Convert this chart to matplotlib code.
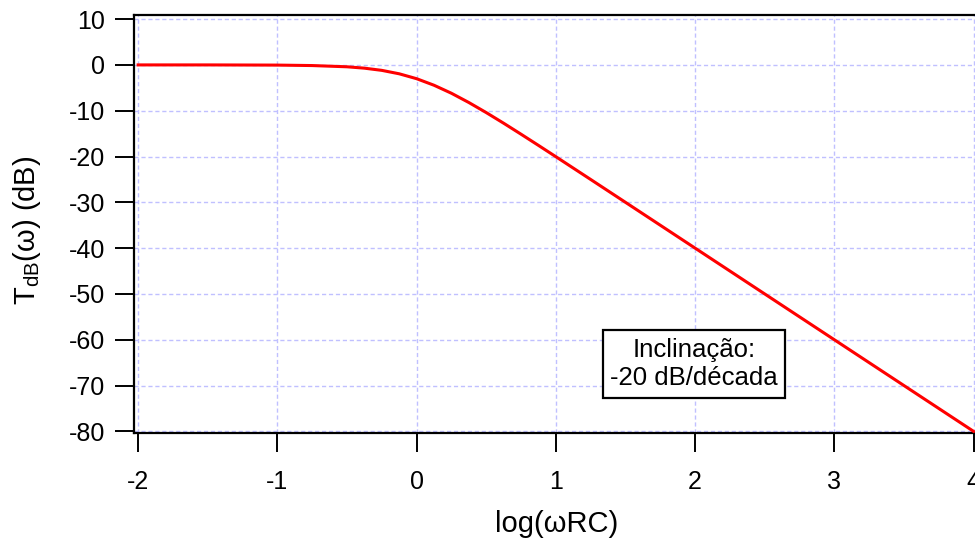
import matplotlib
matplotlib.use("Agg")
import matplotlib.pyplot as plt

# values
log_wrc = [-2.0, -1.5, -1.0, -0.75, -0.5, -0.375, -0.25, -0.125, 0.0,
           0.125, 0.25, 0.375, 0.5, 0.625, 0.75, 0.875, 1.0, 1.25, 1.5,
           2.0, 2.5, 3.0, 3.5, 4.0]
t_db = [0.0, 0.0, -0.04, -0.14, -0.41, -0.71, -1.19, -1.94, -3.01,
        -4.44, -6.19, -8.21, -10.41, -12.73, -15.13, -17.57, -20.04, -25.01, -30.0,
        -40.0, -50.0, -60.0, -70.0, -80.0]

x_ticks = [-2, -1, 0, 1, 2, 3, 4]
y_ticks = [10, 0, -10, -20, -30, -40, -50, -60, -70, -80]

plt.rcParams['font.family'] = ['Liberation Sans', 'DejaVu Sans']
plt.rcParams['mathtext.fontset'] = 'custom'
plt.rcParams['mathtext.rm'] = 'Liberation Sans'
plt.rcParams['axes.unicode_minus'] = False

fig = plt.figure(figsize=(9.75, 5.39), dpi=100)
ax = fig.add_axes([0.1374, 0.1967, 0.8626, 0.7755])

ax.plot(log_wrc, t_db, color='#ff0000', lw=2.2, zorder=3)

ax.set_xlim(-2.03, 4.01)
ax.set_ylim(-80.35, 10.9)
ax.set_xticks(x_ticks)
ax.set_yticks(y_ticks)
ax.grid(True, color='#c0c0ff', linestyle=(0, (3, 2)), linewidth=1.0)

ax.tick_params(direction='out', length=13.5, width=1.4, labelsize=18)
ax.tick_params(axis='y', pad=7)
ax.tick_params(axis='x', pad=13)
for side in ['left', 'bottom', 'top']:
    ax.spines[side].set_linewidth(1.6)
ax.spines['right'].set_visible(False)

ax.set_xlabel('log(ωRC)', fontsize=21)
ax.set_ylabel(r'T$_{\mathregular{dB}}$(ω) (dB)', fontsize=21)
ax.xaxis.set_label_coords(0.502, -0.185)
ax.yaxis.set_label_coords(-0.108, 0.486)

ax.text(1.99, -65.3, 'Inclinação:\n-20 dB/década', fontsize=18.5,
        ha='center', va='center', linespacing=1.25,
        bbox=dict(boxstyle='square,pad=0.28', facecolor='white',
                  edgecolor='black', linewidth=1.6), zorder=4)

fig.savefig('out.png', dpi=100)
